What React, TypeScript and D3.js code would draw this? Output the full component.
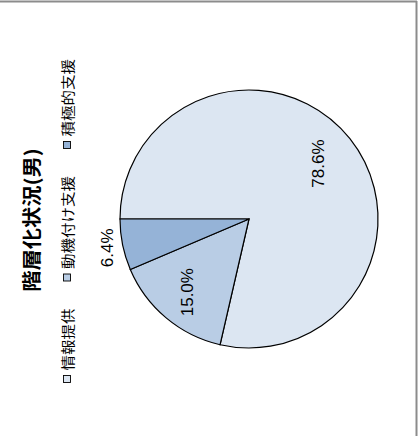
import React from "react";
import * as d3 from "d3";

const title = "階層化状況(男)";
const categories = ["情報提供", "動機付け支援", "積極的支援"];
const values = [78.6, 15.0, 6.4];
const colors = ["#DCE6F2", "#B9CDE5", "#95B3D7"];
const labelRadiusFactor = [0.69, 0.74, 1.12];

const W = 418;
const H = 436;

export default function App() {
  const cx = 249;
  const cy = 219;
  const r = 129;
  const pie = d3
    .pie<number>()
    .sort(null)
    .startAngle(-Math.PI / 2)
    .endAngle((3 * Math.PI) / 2);
  const arcs = pie(values);
  const arcGen = d3.arc<d3.PieArcDatum<number>>().innerRadius(0).outerRadius(r);

  // legend layout (reads bottom-to-top because chart is rotated)
  const charAdv = 15.5;
  const fontSize = 13.5;
  const sx = charAdv / fontSize;
  const boxSize = 7;
  const gap = 31;
  const legendX = 67;
  let cursor = 379;
  const legendItems = categories.map((c, i) => {
    const boxY = cursor;
    const textStart = boxY - boxSize / 2 - 5;
    const w = c.length * charAdv;
    cursor = textStart - w - gap;
    return { c, i, boxY, textStart };
  });

  return (
    <svg
      width={W}
      height={H}
      style={{ position: "absolute", left: 0, top: 0, background: "#fff" }}
    >
      <line x1={0} x2={417} y1={1.5} y2={1.5} stroke="#8c8c8c" strokeWidth={2} />
      <line x1={416.5} x2={416.5} y1={1} y2={H} stroke="#8c8c8c" strokeWidth={2} />
      <g transform={`translate(${cx},${cy})`}>
        {arcs.map((a, i) => (
          <path
            key={i}
            d={arcGen(a) || ""}
            fill={colors[i]}
            stroke="#000"
            strokeWidth={1.2}
          />
        ))}
        {arcs.map((a, i) => {
          const lr = r * labelRadiusFactor[i];
          const [x, y] = d3
            .arc<d3.PieArcDatum<number>>()
            .innerRadius(lr)
            .outerRadius(lr)
            .centroid(a);
          return (
            <text
              key={"l" + i}
              transform={`translate(${x},${y}) rotate(-90)`}
              textAnchor="middle"
              dominantBaseline="central"
              fontFamily="Liberation Sans, Arial, sans-serif"
              fontSize={17}
              fill="#000"
            >
              {values[i].toFixed(1)}%
            </text>
          );
        })}
      </g>
      <text
        transform={`translate(31,220) rotate(-90) scale(1.12,1)`}
        textAnchor="middle"
        dominantBaseline="central"
        fontFamily="Noto Sans CJK JP"
        fontWeight="bold"
        fontSize={19}
        fill="#000"
      >
        {title}
      </text>
      {legendItems.map((d) => (
        <g key={d.c}>
          <rect
            x={legendX - boxSize / 2}
            y={d.boxY - boxSize / 2}
            width={boxSize}
            height={boxSize}
            fill={colors[d.i]}
            stroke="#000"
            strokeWidth={0.9}
          />
          <text
            transform={`translate(${legendX},${d.textStart}) rotate(-90) scale(${sx},1)`}
            textAnchor="start"
            dominantBaseline="central"
            fontFamily="Noto Sans CJK JP"
            fontSize={fontSize}
            fill="#000"
          >
            {d.c}
          </text>
        </g>
      ))}
    </svg>
  );
}
